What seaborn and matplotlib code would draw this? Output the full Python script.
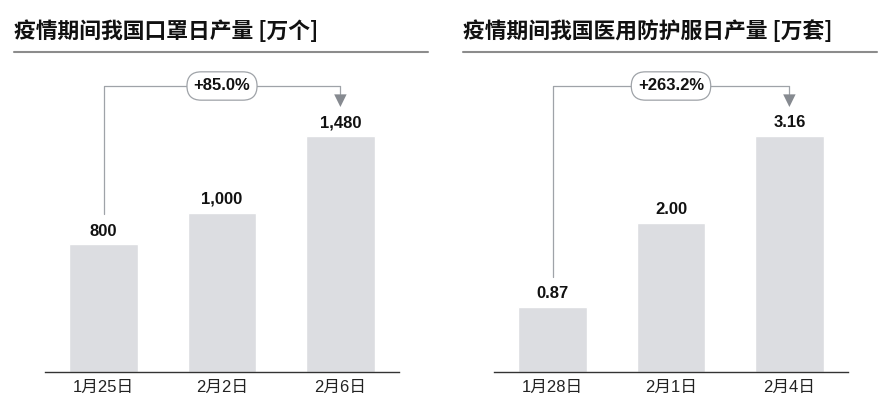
import numpy as np
import pandas as pd
import matplotlib
matplotlib.use("Agg")
import matplotlib.pyplot as plt
import seaborn as sns
from matplotlib.lines import Line2D
from matplotlib import font_manager

# data
mask_dates = ["1月25日", "2月2日", "2月6日"]
mask_output = [800, 1000, 1480]
suit_dates = ["1月28日", "2月1日", "2月4日"]
suit_output = [0.87, 2.00, 3.16]

titles = ["疫情期间我国口罩日产量 [万个]", "疫情期间我国医用防护服日产量 [万套]"]

installed = {f.name for f in font_manager.fontManager.ttflist}
narrow = "Liberation Sans Narrow" if "Liberation Sans Narrow" in installed else "Liberation Sans"
num_size = 12.5 if narrow == "Liberation Sans Narrow" else 12

sns.set_theme(style="white")
plt.rcParams['font.family'] = [narrow, 'Noto Sans CJK SC', 'DejaVu Sans']

W, H = 889, 418
fig = plt.figure(figsize=(W / 100, H / 100), dpi=100)

bar_col = "#dcdde1"
line_col = "#9fa3a8"
arrow_col = "#868a90"

def panel(left_px, dates, values, fmt, title):
    ax = fig.add_axes([left_px / W, (H - 372) / H, 354 / W, 312 / H])
    df = pd.DataFrame({"date": dates, "value": values})
    sns.barplot(data=df, x="date", y="value", color=bar_col, saturation=1,
                width=0.58, ax=ax)
    ymax = 312 / 236 * max(values)
    ax.set_ylim(0, ymax)
    ax.set_xlim(-0.495, 2.495)
    ax.set_xlabel("")
    ax.set_ylabel("")
    ax.set_yticks([])
    for s in ["top", "right", "left"]:
        ax.spines[s].set_visible(False)
    ax.spines["bottom"].set_color("#333333")
    ax.spines["bottom"].set_linewidth(1.0)
    ax.tick_params(axis="x", length=0, pad=6, labelsize=12, labelcolor="#222222")

    # value labels
    for i, v in enumerate(values):
        ax.annotate(fmt.format(v), (i, v), xytext=(0, 4), textcoords="offset points",
                    ha="center", va="bottom", fontsize=num_size, fontweight="bold",
                    color="#111111")

    # growth bracket
    tr = ax.get_xaxis_transform()
    y_line = (372 - 86) / 312
    y_start = values[0] / ymax + 30 / 312
    y_tip = values[-1] / ymax + 29 / 312
    ax.plot([0, 0, 2], [y_start, y_line, y_line], color=line_col, lw=0.9,
            transform=tr, clip_on=False, zorder=3)
    ax.plot([2, 2], [y_line, y_line - 8 / 312], color=line_col, lw=0.9,
            transform=tr, clip_on=False, zorder=3)
    ax.annotate("", xy=(2, y_tip), xytext=(2, y_line - 7 / 312),
                xycoords=tr, textcoords=tr,
                arrowprops=dict(arrowstyle="-|>,head_length=0.65,head_width=0.32",
                                mutation_scale=14, color=arrow_col, lw=0,
                                shrinkA=0, shrinkB=0))
    growth = (values[-1] / values[0] - 1) * 100
    ax.text(1, y_line, f"+{growth:.1f}%", transform=tr, ha="center", va="center",
            fontsize=num_size, fontweight="bold", color="#111111", zorder=5,
            bbox=dict(boxstyle="round,pad=0.4,rounding_size=0.85", fc="white",
                      ec=line_col, lw=0.9))

    # title and rule
    fig.text((left_px - 31) / W, 1 - 32 / H, title, ha="left", va="center",
             fontsize=15.7, fontweight="bold", color="#111111",
             family=['Noto Sans CJK SC', 'DejaVu Sans'])
    fig.add_artist(Line2D([(left_px - 31) / W, (left_px + 383) / W],
                          [1 - 52 / H, 1 - 52 / H], color="#8c8c8c", lw=1.5))
    return ax

panel(45, mask_dates, mask_output, "{:,.0f}", titles[0])
panel(494, suit_dates, suit_output, "{:.2f}", titles[1])

fig.savefig("out.png", dpi=100)
